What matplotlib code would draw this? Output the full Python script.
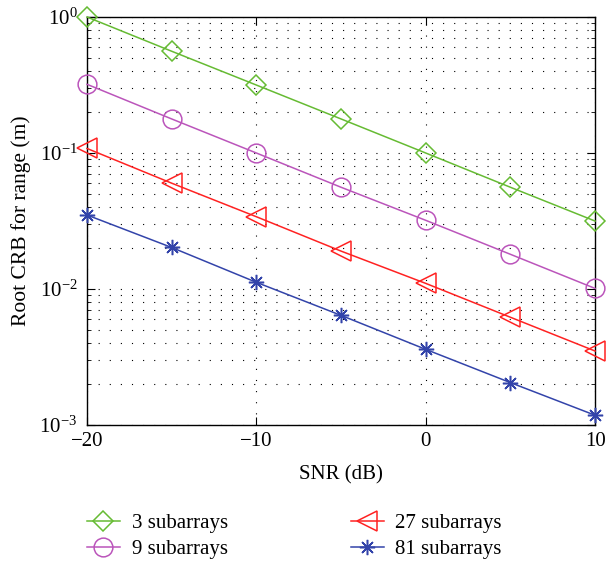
import numpy as np
import matplotlib.pyplot as plt

plt.rcParams['font.family'] = 'Liberation Serif'
plt.rcParams['mathtext.fontset'] = 'custom'
plt.rcParams['mathtext.rm'] = 'Liberation Serif'

snr = [-20, -15, -10, -5, 0, 5, 10]
crb3 = [1.0, 0.56, 0.316, 0.178, 0.1, 0.056, 0.0316]
crb9 = [0.32, 0.178, 0.1, 0.056, 0.032, 0.018, 0.0101]
crb27 = [0.108, 0.06, 0.034, 0.019, 0.011, 0.0062, 0.0035]
crb81 = [0.035, 0.0202, 0.0112, 0.0064, 0.0036, 0.00205, 0.00118]
labels = ['3 subarrays', '9 subarrays', '27 subarrays', '81 subarrays']

fig = plt.figure(figsize=(6.06, 5.67), dpi=100)
ax = fig.add_axes([0.1436, 0.2504, 0.8384, 0.7196])

kw = dict(mfc='none', mew=1.1, lw=1.1, clip_on=False, zorder=3)
l1, = ax.semilogy(snr, crb3, '-', marker='D', color='#66bb33', ms=10.5, **kw)
l2, = ax.semilogy(snr, crb9, '-', marker='o', color='#bb55bb', ms=13.5, **kw)
l3, = ax.semilogy(snr, crb27, '-', marker='<', color='#ff2222', ms=15, **kw)
l4, = ax.semilogy(snr, crb81, '-', marker=(8, 2, 0), color='#3344aa', ms=11, **kw)

ax.set_xlim(-20, 10)
ax.set_ylim(1e-3, 1)
ax.set_xticks([-20, -10, 0, 10])
ax.set_xticklabels(['\u221220', '\u221210', '0', '10'])
ax.grid(True, which='major', ls=(0, (1, 9)), color='k', lw=0.8)
ax.grid(True, which='minor', axis='y', ls=(0, (1, 9)), color='k', lw=0.8)
ax.tick_params(which='both', direction='in', top=True, right=True, labelsize=15)
ax.tick_params(which='major', length=6)
ax.tick_params(which='minor', length=3)
ax.tick_params(axis='y', pad=7)
ax.tick_params(axis='x', pad=5)
for s in ax.spines.values():
    s.set_linewidth(1.0)

ax.set_xlabel('SNR (dB)', fontsize=15, labelpad=10)
ax.set_ylabel('Root CRB for range (m)', fontsize=15.5, labelpad=6)

# column-first fill: col 1 = 3, 9 and col 2 = 27, 81
fig.legend([l1, l2, l3, l4], labels, ncol=2, frameon=False, fontsize=15,
           loc='center left', bbox_to_anchor=(0.126, 0.054), borderpad=0,
           handlelength=1.6, handletextpad=0.55, labelspacing=0.3, columnspacing=5.9)

fig.savefig('out.png', dpi=100)
